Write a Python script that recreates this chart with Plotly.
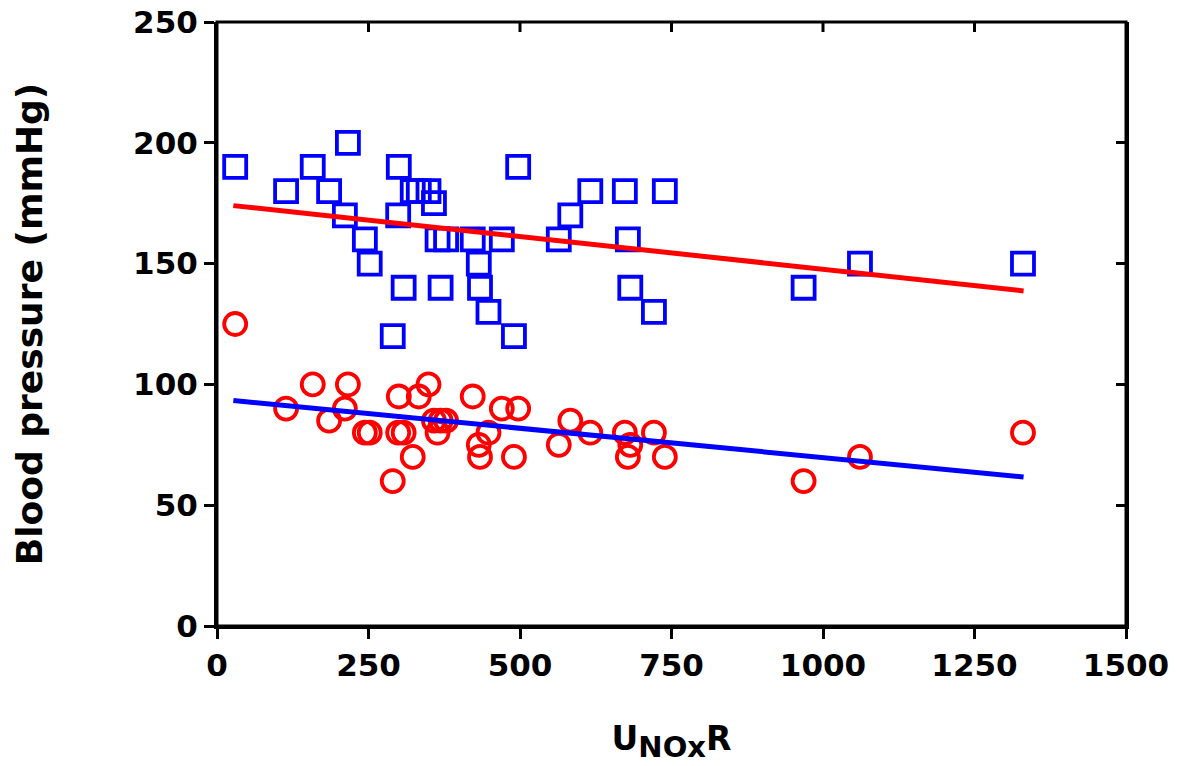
import plotly.graph_objects as go

# UNOxR values (one per subject)
unoxr = [30, 114, 158, 185, 211, 216, 244, 252, 290, 300, 299, 308, 323, 333, 349,
         358, 364, 369, 378, 422, 432, 434, 448, 470, 490, 497, 564, 583, 616, 673,
         678, 682, 721, 739, 968, 1061, 1330]
# Systolic blood pressure (squares)
sbp = [190, 180, 190, 180, 170, 200, 160, 150, 120, 190, 170, 140, 180, 180, 180,
       175, 160, 140, 160, 160, 150, 140, 130, 160, 120, 190, 160, 170, 180, 180,
       160, 140, 130, 180, 140, 150, 150]
# Diastolic blood pressure (circles)
dbp = [125, 90, 100, 85, 90, 100, 80, 80, 60, 95, 80, 80, 70, 95, 100,
       85, 80, 85, 85, 95, 75, 70, 80, 90, 70, 90, 75, 85, 80, 80,
       70, 75, 80, 70, 60, 70, 80]

# Regression lines (endpoints)
fit_x = [27, 1331]
sbp_fit = [174.0, 138.7]
dbp_fit = [93.3, 61.7]

x_ticks = [0, 250, 500, 750, 1000, 1250, 1500]
y_ticks = [0, 50, 100, 150, 200, 250]

FONT = "DejaVu Sans"
PLOT_H = 766 - 22 - 140

fig = go.Figure()
fig.add_trace(go.Scatter(x=unoxr, y=sbp, mode="markers",
                         marker=dict(symbol="square-open", size=22, color="#0000ff",
                                     line=dict(width=3.8, color="#0000ff")),
                         showlegend=False))
fig.add_trace(go.Scatter(x=unoxr, y=dbp, mode="markers",
                         marker=dict(symbol="circle-open", size=22, color="#ff0000",
                                     line=dict(width=3.8, color="#ff0000")),
                         showlegend=False))
fig.add_trace(go.Scatter(x=fit_x, y=sbp_fit, mode="lines",
                         line=dict(color="#ff0000", width=5), showlegend=False))
fig.add_trace(go.Scatter(x=fit_x, y=dbp_fit, mode="lines",
                         line=dict(color="#0000ff", width=5), showlegend=False))
# invisible trace for mirrored right axis
fig.add_trace(go.Scatter(x=[0], y=[0], xaxis="x", yaxis="y2", mode="markers",
                         marker=dict(opacity=0), showlegend=False, hoverinfo="skip"))

axis_common = dict(showgrid=False, zeroline=False, showline=True, linecolor="black",
                   linewidth=3, tickcolor="black", tickwidth=3, ticklen=10,
                   automargin=False, ticklabeloverflow="allow")

# frame + inward ticks along the top edge
shapes = [dict(type="rect", xref="paper", yref="paper", x0=0, x1=1, y0=0, y1=1,
               line=dict(color="black", width=3), layer="above")]
for t in x_ticks[1:-1]:
    shapes.append(dict(type="line", xref="x", yref="paper", x0=t, x1=t,
                       y0=1, y1=1 - 10 / PLOT_H,
                       line=dict(color="black", width=3), layer="above"))

fig.update_layout(
    width=1177, height=766,
    paper_bgcolor="white", plot_bgcolor="white",
    margin=dict(l=217, r=51, t=22, b=140),
    font=dict(family=FONT, color="black"),
    xaxis=dict(range=[0, 1500], tickvals=x_ticks, ticks="outside",
               tickfont=dict(family=FONT, size=31, color="black", weight="bold"),
               title=dict(text="U<sub><span style='font-size:29px'>NOx</span></sub>R",
                          font=dict(family=FONT, size=33, color="black", weight="bold"),
                          standoff=45),
               **axis_common),
    yaxis=dict(range=[0, 250], tickvals=y_ticks, ticks="outside",
               tickfont=dict(family=FONT, size=31, color="black", weight="bold"),
               title=dict(text="Blood pressure (mmHg)",
                          font=dict(family=FONT, size=36, color="black", weight="bold"),
                          standoff=80),
               **axis_common),
    yaxis2=dict(range=[0, 250], tickvals=y_ticks, ticks="inside", overlaying="y",
                side="right", showticklabels=False, anchor="x", **axis_common),
    shapes=shapes,
)

fig.write_html("out.html", config={"displayModeBar": False},
               post_script="document.body.style.margin='0';document.body.style.padding='0';")
